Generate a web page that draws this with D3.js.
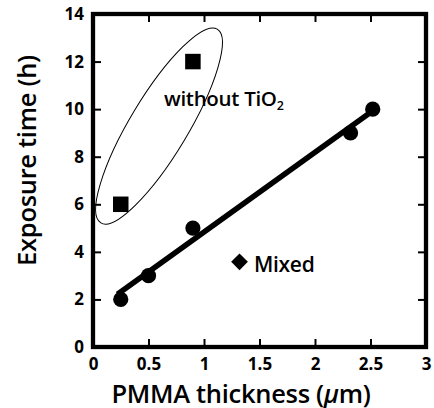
<!DOCTYPE html>
<html>
<head>
<meta charset="utf-8">
<script src="https://cdn.jsdelivr.net/npm/d3@7"></script>
<style>
  html, body { margin: 0; padding: 0; background: #fff; }
  svg { display: block; }
  text { font-family: "Open Sans", sans-serif; fill: #000; }
</style>
</head>
<body>
<svg id="chart" width="434" height="408"></svg>
<script>
// ---- data ----
const circleX = [0.25, 0.5, 0.9, 2.32, 2.52];
const circleY = [2, 3, 5, 9, 10];
const squareX = [0.25, 0.9];
const squareY = [6, 12];
const diamondX = [1.32];
const diamondY = [3.58];
const fitX = [0.22, 2.48];
const fitY = [2.22, 9.8];
const xTicks = [0, 0.5, 1, 1.5, 2, 2.5, 3];
const xTickLabels = ["0", "0.5", "1", "1.5", "2", "2.5", "3"];
const yTicks = [0, 2, 4, 6, 8, 10, 12, 14];
const yTickLabels = ["0", "2", "4", "6", "8", "10", "12", "14"];
const xDomain = [0, 3];
const yDomain = [0, 14];
const ellipseCenter = [0.595, 9.29];
const xTitleParts = ["PMMA thickness (", "\u03BC", "m)"];
const yTitle = "Exposure time (h)";
const label1 = "without TiO";
const label1Sub = "2";
const label2 = "Mixed";

// ---- layout ----
const svg = d3.select("#chart");
const mLeft = 93, mRight = 426, mTop = 14, mBottom = 347;
const x = d3.scaleLinear().domain(xDomain).range([mLeft, mRight]);
const y = d3.scaleLinear().domain(yDomain).range([mBottom, mTop]);

// ticks (inside, on all four sides)
function styleAxis(g) {
  g.select(".domain").remove();
  g.selectAll(".tick line").attr("stroke", "#000").attr("stroke-width", 2);
}
const tickLen = 8;
const tickFont = g => g.selectAll(".tick text")
  .attr("font-size", 17).attr("font-weight", 700).attr("fill", "#000")
  .attr("font-family", "'Open Sans', sans-serif");
svg.append("g").attr("transform", `translate(0,${mBottom})`)
  .call(d3.axisBottom(x).tickValues(xTicks).tickSize(-tickLen).tickFormat((d, i) => xTickLabels[i]).tickPadding(10.5))
  .call(styleAxis).call(tickFont);
svg.append("g").attr("transform", `translate(${mLeft},0)`)
  .call(d3.axisLeft(y).tickValues(yTicks).tickSize(-tickLen).tickFormat((d, i) => yTickLabels[i]).tickPadding(9))
  .call(styleAxis).call(tickFont);
svg.append("g").attr("transform", `translate(0,${mTop})`)
  .call(d3.axisTop(x).tickValues(xTicks).tickSize(-tickLen).tickFormat(""))
  .call(styleAxis);
svg.append("g").attr("transform", `translate(${mRight},0)`)
  .call(d3.axisRight(y).tickValues(yTicks).tickSize(-tickLen).tickFormat(""))
  .call(styleAxis);

// frame
svg.append("rect")
  .attr("x", x(xDomain[0])).attr("y", y(yDomain[1]))
  .attr("width", x(xDomain[1]) - x(xDomain[0]))
  .attr("height", y(yDomain[0]) - y(yDomain[1]))
  .attr("fill", "none").attr("stroke", "#000").attr("stroke-width", 4.3);

// ellipse annotation
svg.append("ellipse")
  .attr("transform", `translate(${x(ellipseCenter[0])},${y(ellipseCenter[1])}) rotate(-59)`)
  .attr("rx", 113).attr("ry", 29)
  .attr("fill", "none").attr("stroke", "#000").attr("stroke-width", 1);

// fit line
svg.append("path")
  .datum(fitX.map((d, i) => [d, fitY[i]]))
  .attr("d", d3.line().x(d => x(d[0])).y(d => y(d[1])))
  .attr("fill", "none").attr("stroke", "#000").attr("stroke-width", 5.5);

// circles
svg.append("g").selectAll("circle")
  .data(circleX.map((d, i) => [d, circleY[i]]))
  .join("circle")
  .attr("cx", d => x(d[0])).attr("cy", d => y(d[1])).attr("r", 7.6)
  .attr("fill", "#000");

// squares
const sq = 15.5;
svg.append("g").selectAll("rect")
  .data(squareX.map((d, i) => [d, squareY[i]]))
  .join("rect")
  .attr("x", d => x(d[0]) - sq / 2).attr("y", d => y(d[1]) - sq / 2)
  .attr("width", sq).attr("height", sq)
  .attr("fill", "#000");

// diamond
svg.append("g").selectAll("path")
  .data(diamondX.map((d, i) => [d, diamondY[i]]))
  .join("path")
  .attr("transform", d => `translate(${x(d[0])},${y(d[1])}) rotate(45)`)
  .attr("d", d3.symbol().type(d3.symbolSquare).size(140))
  .attr("fill", "#000");

// labels
const t1 = svg.append("text")
  .attr("x", 164).attr("y", 106)
  .attr("font-size", 20.5).attr("font-weight", 600)
  .attr("letter-spacing", -0.3);
t1.append("tspan").text(label1);
t1.append("tspan").text(label1Sub).attr("font-size", 12.5).attr("dy", 4);

svg.append("text")
  .attr("x", 254).attr("y", 272)
  .attr("font-size", 21).attr("font-weight", 600)
  .attr("letter-spacing", -0.3)
  .text(label2);

// axis titles
const xt = svg.append("text")
  .attr("x", 241).attr("y", 402.5)
  .attr("text-anchor", "middle")
  .attr("font-size", 25.5).attr("font-weight", 600)
  .attr("letter-spacing", -0.3);
xt.append("tspan").text(xTitleParts[0]);
xt.append("tspan").text(xTitleParts[1]).attr("font-style", "italic");
xt.append("tspan").text(xTitleParts[2]);

svg.append("text")
  .attr("transform", `translate(36,160.5) rotate(-90)`)
  .attr("text-anchor", "middle")
  .attr("font-size", 25.5).attr("font-weight", 600)
  .attr("letter-spacing", -0.3)
  .text(yTitle);
</script>
</body>
</html>
